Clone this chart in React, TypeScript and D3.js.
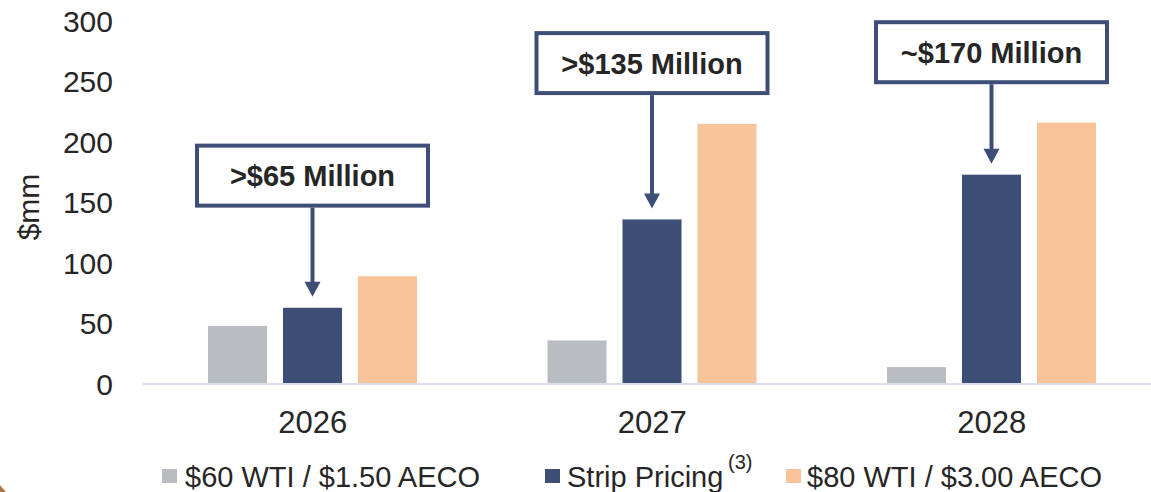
import React from 'react';
import * as d3 from 'd3';

// chart data
const years = ['2026', '2027', '2028'];
const seriesKeys = ['low', 'strip', 'high'];
const seriesLabels = ['$60 WTI / $1.50 AECO', 'Strip Pricing', '$80 WTI / $3.00 AECO'];
const seriesColors = ['#b9bdc1', '#3d4f77', '#f8c398'];
const lowValues = [48, 36, 14];
const stripValues = [63, 136, 173];
const highValues = [89, 215, 216];
const yTicks = [0, 50, 100, 150, 200, 250, 300];

// callouts above the strip pricing bars
const calloutLabels = ['>$65 Million', '>$135 Million', '~$170 Million'];
const calloutLevels = [197, 290, 299]; // top of each box, in $mm

const W = 1151;
const H = 492;
const FONT = "'Liberation Sans', Arial, sans-serif";
const TEXT = '#262626';
const NAVY = '#3d4f77';

export default function App() {
  const y = d3.scaleLinear().domain([0, 300]).range([384, 21]);
  const x = d3.scaleBand<string>().domain(years).range([143, 1161.5]);
  const xs = d3.scaleBand<string>().domain(seriesKeys).range([65, 274]).paddingInner(0.213);
  const bw = xs.bandwidth();

  const values: Record<string, number[]> = { low: lowValues, strip: stripValues, high: highValues };

  const boxW = 231;
  const boxH = 60;

  return (
    <svg width={W} height={H} style={{ position: 'absolute', left: 0, top: 0, background: '#fff' }} fontFamily={FONT}>
      {/* y axis labels */}
      {yTicks.map(t => (
        <text key={t} x={113} y={y(t)} dy="0.36em" textAnchor="end" fontSize={30} fill={TEXT}>{t}</text>
      ))}
      <text transform={`translate(28,207) rotate(-90)`} dy="0.36em" textAnchor="middle" fontSize={30} fill={TEXT}>$mm</text>

      {/* bars */}
      {years.map((yr, i) => (
        <g key={yr} transform={`translate(${x(yr)},0)`}>
          {seriesKeys.map((k, j) => (
            <rect key={k} x={xs(k)} y={y(values[k][i])} width={bw} height={y(0) - y(values[k][i])} fill={seriesColors[j]} />
          ))}
        </g>
      ))}

      {/* baseline */}
      <line x1={143} x2={W} y1={y(0)} y2={y(0)} stroke="#d9dee9" strokeWidth={2} />

      {/* category labels */}
      {years.map(yr => (
        <text key={yr} x={(x(yr) as number) + x.bandwidth() / 2} y={433} textAnchor="middle" fontSize={31} fill={TEXT}>{yr}</text>
      ))}

      {/* callouts */}
      {years.map((yr, i) => {
        const cx = (x(yr) as number) + (xs('strip') as number) + bw / 2;
        const top = y(calloutLevels[i]);
        const tip = y(stripValues[i]) - 11;
        const lineStart = top + boxH + 2;
        return (
          <g key={'c' + yr}>
            <line x1={cx} x2={cx} y1={lineStart} y2={tip - 12} stroke={NAVY} strokeWidth={4} />
            <path d={`M${cx - 8},${tip - 15} L${cx + 8},${tip - 15} L${cx},${tip} Z`} fill={NAVY} />
            <rect x={cx - boxW / 2} y={top} width={boxW} height={boxH} fill="#fff" stroke={NAVY} strokeWidth={4} />
            <text x={cx} y={top + boxH / 2} dy="0.36em" textAnchor="middle" fontSize={29} fontWeight="bold" fill={TEXT}>{calloutLabels[i]}</text>
          </g>
        );
      })}

      {/* legend */}
      <g>
        <rect x={162} y={469} width={15} height={14} fill={seriesColors[0]} />
        <text x={185} y={487} fontSize={29} fill={TEXT}>{seriesLabels[0]}</text>
        <rect x={545} y={469} width={15} height={14} fill={seriesColors[1]} />
        <text x={567} y={487} fontSize={29} fill={TEXT}>{seriesLabels[1]}</text>
        <text x={728} y={469} fontSize={20} fill={TEXT}>(3)</text>
        <rect x={786} y={469} width={15} height={14} fill={seriesColors[2]} />
        <text x={807} y={487} fontSize={29} fill={TEXT}>{seriesLabels[2]}</text>
      </g>

      {/* corner decoration */}
      <path d="M0,485 L0,492 L6,492 Z" fill="#b07a4a" />
    </svg>
  );
}
